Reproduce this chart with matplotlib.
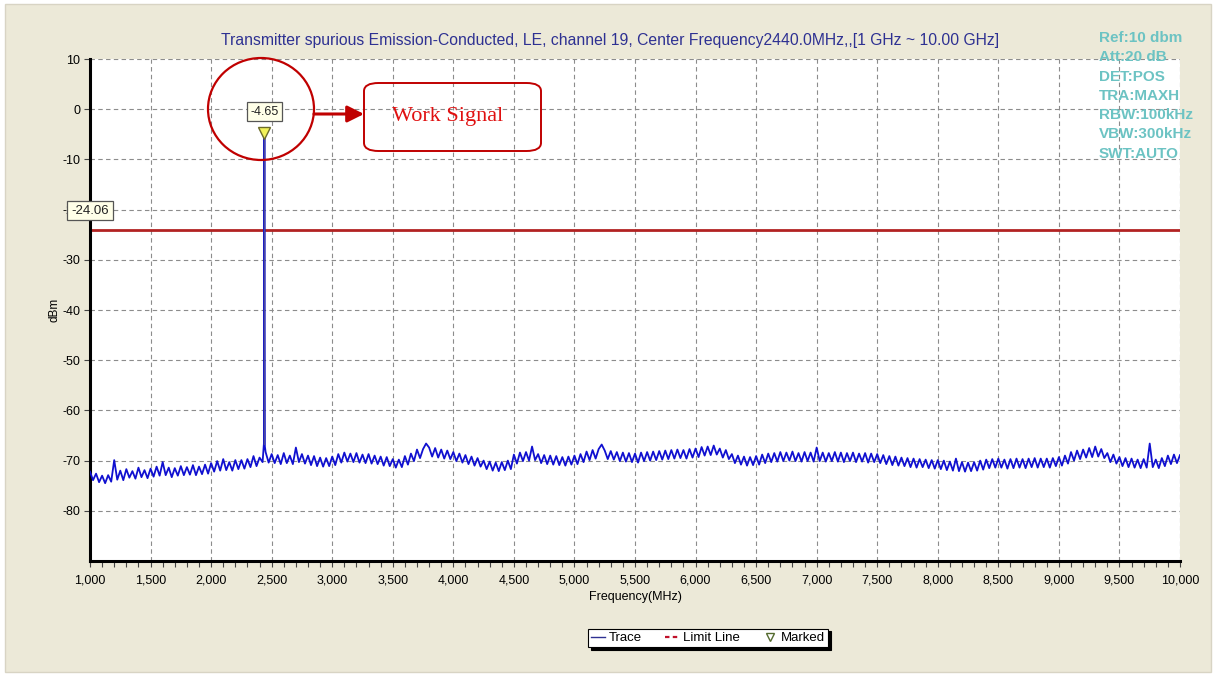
import numpy as np
import matplotlib
matplotlib.use("Agg")
import matplotlib.pyplot as plt
from matplotlib.patches import Rectangle, Ellipse, FancyBboxPatch, FancyArrowPatch
from matplotlib.lines import Line2D
from matplotlib.ticker import MultipleLocator, FuncFormatter
from matplotlib import font_manager

# ---------------- data ----------------
freq_start, freq_stop, freq_step = 1000, 10000, 25
trace_dbm = [
    -72.2, -73.9, -72.6, -74.3, -73.0, -74.5, -72.9, -74.2, -69.9, -73.8, -72.0, -73.9, -71.7, -73.4, -72.1, -73.6, -71.4, -73.3, -71.9, -73.5,
    -71.6, -73.2, -71.2, -73.0, -70.3, -72.9, -71.4, -73.3, -71.5, -73.0, -71.1, -72.9, -71.3, -72.8, -70.9, -72.9, -71.2, -72.7, -70.8, -72.6,
    -70.5, -72.2, -70.1, -72.0, -69.7, -71.9, -70.3, -72.0, -69.9, -71.7, -69.9, -71.6, -69.7, -71.3, -69.1, -71.1, -69.4, -70.3, -68.3, -70.4,
    -68.7, -70.5, -68.9, -70.7, -68.5, -70.5, -69.0, -70.7, -67.4, -70.3, -68.7, -70.6, -69.0, -70.9, -69.1, -71.1, -69.4, -71.2, -69.5, -71.1,
    -69.2, -70.9, -68.7, -70.4, -68.4, -70.2, -68.6, -70.3, -68.5, -70.4, -68.8, -70.5, -68.7, -70.6, -69.0, -70.7, -69.2, -71.0, -69.3, -71.1,
    -69.7, -71.4, -69.8, -71.3, -69.1, -70.8, -68.6, -70.1, -67.8, -69.5, -67.7, -66.6, -67.4, -69.2, -67.5, -69.4, -67.8, -69.6, -68.0, -69.7,
    -68.3, -70.1, -68.6, -70.4, -68.9, -70.7, -69.2, -71.0, -69.5, -71.2, -70.0, -71.7, -70.2, -72.0, -70.4, -72.1, -70.3, -71.9, -70.0, -71.7,
    -68.8, -70.6, -68.4, -70.1, -68.3, -70.0, -67.2, -69.9, -68.7, -70.5, -68.9, -70.7, -69.0, -70.8, -69.1, -70.9, -69.3, -71.0, -69.2, -70.8,
    -69.0, -70.7, -68.7, -70.3, -68.2, -69.9, -67.9, -69.6, -67.7, -66.8, -68.0, -69.7, -68.1, -69.8, -68.3, -70.1, -68.4, -70.2, -68.5, -70.3,
    -68.6, -70.4, -68.4, -70.1, -68.3, -70.0, -68.2, -69.9, -68.1, -69.8, -68.0, -69.7, -67.9, -69.6, -67.8, -69.5, -67.9, -69.6, -67.7, -69.4,
    -67.6, -69.3, -67.3, -69.0, -67.2, -68.9, -67.0, -68.8, -67.6, -69.4, -67.9, -69.7, -68.7, -70.5, -69.0, -70.8, -69.2, -71.0, -69.3, -70.9,
    -69.1, -70.8, -68.8, -70.5, -68.6, -70.3, -68.5, -70.2, -68.3, -70.1, -68.4, -70.0, -68.2, -70.1, -68.5, -70.2, -68.3, -70.1, -68.4, -70.2,
    -67.4, -70.1, -68.4, -70.2, -68.5, -70.1, -68.3, -70.2, -68.4, -70.3, -68.5, -70.1, -68.4, -70.3, -68.6, -70.2, -68.5, -70.4, -68.6, -70.3,
    -68.7, -70.5, -68.9, -70.7, -69.1, -70.9, -69.2, -71.0, -69.4, -71.1, -69.5, -71.3, -69.6, -71.4, -69.7, -71.3, -69.8, -71.5, -69.9, -71.6,
    -69.9, -71.7, -70.0, -71.9, -70.2, -72.0, -69.6, -72.1, -70.3, -72.2, -70.4, -72.1, -70.3, -72.0, -70.0, -71.8, -69.8, -71.5, -69.7, -71.4,
    -69.6, -71.4, -69.8, -71.6, -69.7, -71.5, -69.6, -71.4, -69.7, -71.5, -69.6, -71.3, -69.5, -71.4, -69.6, -71.3, -69.6, -71.4, -69.5, -71.1,
    -69.3, -71.0, -69.0, -70.6, -68.3, -70.0, -68.0, -69.7, -67.8, -69.4, -67.5, -69.3, -67.2, -69.2, -67.7, -69.5, -68.5, -70.3, -68.8, -70.6,
    -69.3, -71.1, -69.5, -71.3, -69.6, -71.4, -69.8, -71.5, -69.7, -71.4, -66.6, -71.3, -69.8, -71.5, -69.5, -71.1, -69.0, -70.7, -68.8, -70.5,
    -68.9,
]
spike_freq = [2436, 2440, 2444]
spike_dbm = [-66.6, -4.65, -67.2]
marker_freq = 2440
marker_dbm = -4.65
limit_dbm = -24.06
yticks = [10, 0, -10, -20, -30, -40, -50, -60, -70, -80]
xticks = [1000, 1500, 2000, 2500, 3000, 3500, 4000, 4500, 5000, 5500,
          6000, 6500, 7000, 7500, 8000, 8500, 9000, 9500, 10000]
title = "Transmitter spurious Emission-Conducted, LE, channel 19, Center Frequency2440.0MHz,,[1 GHz ~ 10.00 GHz]"
info_lines = ["Ref:10 dbm", "Att:20 dB", "DET:POS", "TRA:MAXH", "RBW:100kHz", "VBW:300kHz", "SWT:AUTO"]

# ---------------- fonts ----------------
avail = {f.name for f in font_manager.fontManager.ttflist}
narrow = "Liberation Sans Narrow" if "Liberation Sans Narrow" in avail else "Liberation Sans"
sans = "Liberation Sans"
serif = "Liberation Serif"

W, H = 1216, 677
fig = plt.figure(figsize=(W / 100, H / 100), dpi=100, facecolor="white")


def fx(px):
    return px / W


def fy(py):
    return 1 - py / H


# beige panel (behind everything)
bg = Rectangle((fx(5), fy(672)), fx(1206), 668 / H, transform=fig.transFigure,
               facecolor="#ECE9D8", edgecolor="#D8D4C4", lw=1, zorder=-10)
fig.patches.append(bg)

ax = fig.add_axes([fx(90), fy(561), fx(1180 - 90), (561 - 59) / H])
ax.set_zorder(1)
ax.set_facecolor("white")

freq = np.arange(freq_start, freq_stop + 1, freq_step)
trace = np.array(trace_dbm)
x_all = np.concatenate([freq, spike_freq])
y_all = np.concatenate([trace, spike_dbm])
order = np.argsort(x_all, kind="stable")
ax.plot(x_all[order], y_all[order], color="#1010D0", lw=1.3, zorder=3)
ax.plot([marker_freq, marker_freq], [spike_dbm[0], marker_dbm], color="#4A4A9A", lw=1.0, zorder=3)

# limit line
ax.axhline(limit_dbm, color="#B22222", lw=2.0, zorder=2)

ax.set_xlim(freq_start, freq_stop)
ax.set_ylim(-90, 10)
ax.set_xticks(xticks)
ax.xaxis.set_minor_locator(MultipleLocator(100))
ax.set_yticks(yticks)
ax.xaxis.set_major_formatter(FuncFormatter(lambda v, p: f"{int(v):,}"))
ax.yaxis.set_major_formatter(FuncFormatter(lambda v, p: f"{int(v)}"))

ax.grid(True, which="major", color="#8C8C8C", linestyle=(0, (4, 3)), lw=0.8, zorder=1)
for s in ["top", "right"]:
    ax.spines[s].set_visible(False)
ax.spines["left"].set_linewidth(2.2)
ax.spines["bottom"].set_linewidth(2.2)
ax.tick_params(axis="x", which="both", direction="out", length=4, width=0.8, color="#444444",
               labelsize=9, pad=6)
ax.tick_params(axis="y", which="both", direction="out", length=4, width=0.8, color="#444444",
               labelsize=9, pad=3)
for lab in ax.get_xticklabels():
    lab.set_family(narrow)
for lab in ax.get_yticklabels():
    lab.set_family(sans)

ax.set_xlabel("Frequency(MHz)", fontsize=9, family=narrow, labelpad=3)
ax.set_ylabel("dBm", fontsize=8.5, family=sans)
ax.yaxis.set_label_coords(-0.027, 0.5)

# title
fig.text(fx(610), fy(41), title, ha="center", va="center", fontsize=11.3, family=sans, color="#2E3192")

# info text
for i, line in enumerate(info_lines):
    fig.text(fx(1099), fy(38 + i * 19.3), line, ha="left", va="center", fontsize=11,
             family=sans, weight="bold", color="#6CC3C3", zorder=10)

# marker
ax.plot([marker_freq], [marker_dbm], marker="v", ms=8, mfc="#F2F25A", mec="#6B6B2A",
        mew=1.0, zorder=5, clip_on=False)
ax.annotate(f"{marker_dbm:.2f}", xy=(marker_freq, marker_dbm), xytext=(0, 15),
            textcoords="offset points", ha="center", va="center", fontsize=9, family=sans,
            color="#222222", zorder=6,
            bbox=dict(boxstyle="square,pad=0.3", fc="#FFFFE8", ec="#555555", lw=0.9))
ax.annotate(f"{limit_dbm:.2f}", xy=(freq_start, limit_dbm), xytext=(0, 14),
            textcoords="offset points", ha="center", va="center", fontsize=9.5, family=sans,
            color="#222222", zorder=6, annotation_clip=False,
            bbox=dict(boxstyle="square,pad=0.3", fc="#FFFFE8", ec="#555555", lw=0.9))

# red circle + arrow + box
circ = Ellipse((fx(261), fy(109)), fx(106), 102 / H, transform=fig.transFigure,
               fill=False, ec="#C00000", lw=1.6, zorder=7)
fig.patches.append(circ)
fig.patches.append(FancyBboxPatch((fx(364), fy(151)), fx(177), 68 / H,
                                  boxstyle="round,pad=0,rounding_size=0.012",
                                  transform=fig.transFigure, fill=False, ec="#C00000", lw=1.4, zorder=7))
fig.add_artist(FancyArrowPatch((fx(314), fy(114)), (fx(364), fy(114)),
                               transform=fig.transFigure,
                               arrowstyle="-|>,head_length=10,head_width=5",
                               color="#C00000", lw=2.2, zorder=7, shrinkA=0, shrinkB=0))
fig.text(fx(448), fy(117), "Work Signal", ha="center", va="center", fontsize=16,
         family=serif, color="#E01010", zorder=8)

# legend
h_trace = Line2D([], [], color="#2E3192", lw=1.0)
h_limit = Line2D([], [], color="#C0102A", lw=1.6, linestyle=(0, (2, 1.5)))
h_mark = Line2D([], [], color="none", marker="v", ms=6, mfc="white", mec="#556B2F")
leg = fig.legend([h_trace, h_limit, h_mark], ["Trace", "Limit Line", "Marked"],
                 loc="center", bbox_to_anchor=(fx(708), fy(638)), ncol=3,
                 prop={"family": sans, "size": 9.5}, frameon=True, fancybox=False,
                 shadow={"color": "black", "alpha": 1}, handlelength=1.0, handletextpad=0.3,
                 columnspacing=1.8, borderpad=0.25)
leg.get_frame().set_edgecolor("black")
leg.get_frame().set_linewidth(0.8)
leg.set_zorder(9)

fig.savefig("out.png", dpi=100, facecolor="white")
